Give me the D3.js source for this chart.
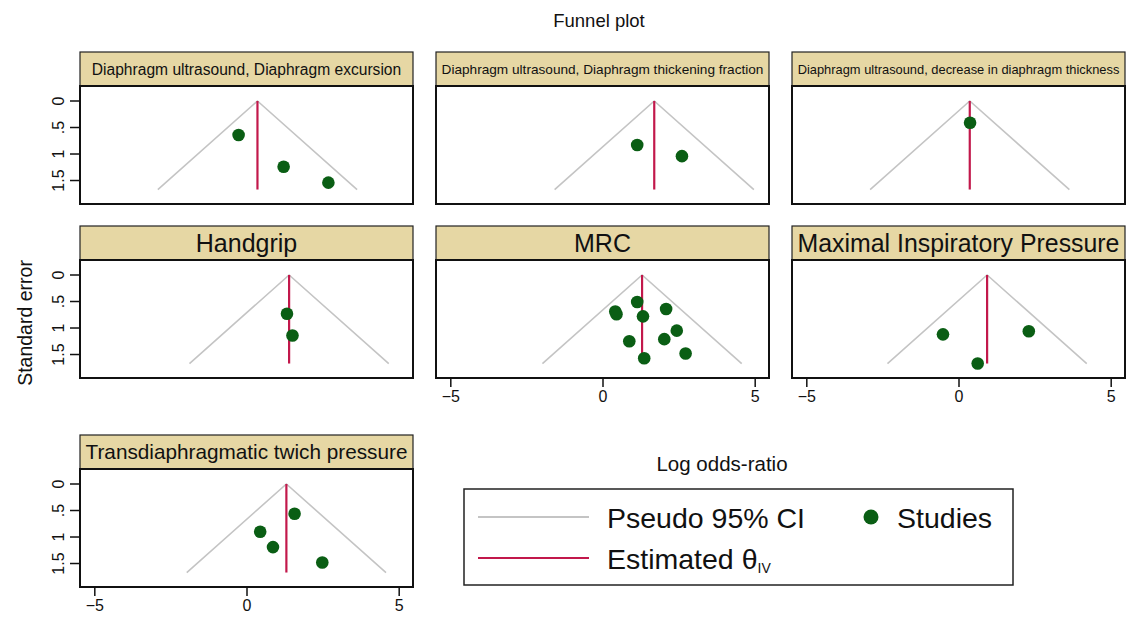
<!DOCTYPE html>
<html>
<head>
<meta charset="utf-8">
<script src="https://cdn.jsdelivr.net/npm/d3@7"></script>
<style>
  html, body { margin: 0; padding: 0; background: #fff; }
  svg { display: block; font-family: "Liberation Sans", Arial, sans-serif; }
</style>
</head>
<body>
<svg id="chart" width="1128" height="631"></svg>
<script>
// ---------------- data ----------------
const panelTitles = [
  "Diaphragm ultrasound, Diaphragm excursion",
  "Diaphragm ultrasound, Diaphragm thickening fraction",
  "Diaphragm ultrasound, decrease in diaphragm thickness",
  "Handgrip",
  "MRC",
  "Maximal Inspiratory Pressure",
  "Transdiaphragmatic twich pressure"
];
const thetaIV = [0.36, 1.70, 0.37, 1.40, 1.30, 0.94, 1.31];
const studyLogOR = [
  [-0.26, 1.22, 2.69],
  [1.14, 2.61],
  [0.38],
  [1.33, 1.51],
  [1.14, 2.09, 0.42, 0.46, 1.33, 2.44, 2.03, 0.88, 2.73, 1.37],
  [-0.51, 2.31, 0.63],
  [1.58, 0.45, 0.87, 2.49]
];
const studySE = [
  [0.64, 1.24, 1.54],
  [0.83, 1.04],
  [0.41],
  [0.73, 1.14],
  [0.51, 0.64, 0.69, 0.74, 0.78, 1.05, 1.21, 1.25, 1.48, 1.57],
  [1.12, 1.06, 1.67],
  [0.56, 0.90, 1.19, 1.48]
];
const seMax = 1.67;
const xTicks = [-5, 0, 5];
const yTicks = [0, 0.5, 1, 1.5];
const yTickLabels = ["0", ".5", "1", "1.5"];
const legendLabels = ["Pseudo 95% CI", "Estimated θ", "Studies"];

// ---------------- layout ----------------
const svg = d3.select("#chart");
const FONT = '"Liberation Sans", Arial, sans-serif';
const colX = [80, 436, 792];
const rowTop = [52, 226, 435];
const panelW = 333, headerH = 34, plotH = 118;
const GRAY = "#c4c4c4", RED = "#c2184b", GREEN = "#0a5e14", HEADER = "#e6d7a4";

const x = d3.scaleLinear().domain([-5.47, 5.47]).range([0, panelW]);
const y = d3.scaleLinear().domain([-0.283, 1.943]).range([0, plotH]);

const showY = [true, false, false, true, false, false, true];
const showX = [false, false, false, false, true, true, true];
const maxFont = [15.6, 15.6, 15.6, 25, 25, 25, 25];

panelTitles.forEach((title, i) => {
  const row = Math.floor(i / 3), col = i % 3;
  const g = svg.append("g").attr("transform", `translate(${colX[col]},${rowTop[row]})`);
  // header
  g.append("rect").attr("x", 0).attr("y", 0).attr("width", panelW).attr("height", headerH)
    .attr("fill", HEADER).attr("stroke", "#222").attr("stroke-width", 1.2);
  const t = g.append("text").attr("x", panelW / 2).attr("y", headerH / 2).attr("dy", "0.36em")
    .attr("text-anchor", "middle").attr("fill", "#111").style("font-size", maxFont[i] + "px").text(title);
  const w = t.node().getComputedTextLength();
  if (w > 322) t.style("font-size", (maxFont[i] * 322 / w) + "px");

  const p = g.append("g").attr("transform", `translate(0,${headerH})`);
  p.append("rect").attr("width", panelW).attr("height", plotH).attr("fill", "#fff");

  // funnel
  const th = thetaIV[i];
  const line = d3.line().x(d => x(d[0])).y(d => y(d[1]));
  p.append("path")
    .attr("d", line([[th - 1.96 * seMax, seMax], [th, 0], [th + 1.96 * seMax, seMax]]))
    .attr("fill", "none").attr("stroke", GRAY).attr("stroke-width", 1.6);
  p.append("path").attr("d", line([[th, 0], [th, seMax]]))
    .attr("stroke", RED).attr("stroke-width", 2.2);
  // studies
  p.selectAll("circle.study").data(studyLogOR[i].map((v, k) => [v, studySE[i][k]]))
    .enter().append("circle").attr("class", "study")
    .attr("cx", d => x(d[0])).attr("cy", d => y(d[1])).attr("r", 6.3).attr("fill", GREEN);

  p.append("rect").attr("width", panelW).attr("height", plotH).attr("fill", "none")
    .attr("stroke", "#111").attr("stroke-width", 2);

  if (showY[i]) {
    const ya = p.append("g");
    ya.selectAll("line").data(yTicks).enter().append("line")
      .attr("x1", -10).attr("x2", 0).attr("y1", d => y(d)).attr("y2", d => y(d))
      .attr("stroke", "#111").attr("stroke-width", 1.5);
    ya.selectAll("text").data(yTicks).enter().append("text")
      .attr("transform", d => `translate(-16.5,${y(d)}) rotate(-90)`)
      .attr("text-anchor", "middle").attr("fill", "#111").style("font-size", "16px")
      .text((d, k) => yTickLabels[k]);
  }
  if (showX[i]) {
    const xa = p.append("g").attr("transform", `translate(0,${plotH})`)
      .call(d3.axisBottom(x).tickValues(xTicks).tickSize(9).tickPadding(4).tickFormat(d3.format("d")));
    xa.select(".domain").remove();
    xa.selectAll("line").attr("stroke", "#111").attr("stroke-width", 1.5);
    xa.selectAll("text").attr("fill", "#111").style("font-size", "16px").style("font-family", FONT);
  }
});

// titles
svg.append("text").attr("x", 599).attr("y", 27).attr("text-anchor", "middle")
  .style("font-size", "18.5px").attr("fill", "#111").text("Funnel plot");
svg.append("text").attr("x", 722).attr("y", 471).attr("text-anchor", "middle")
  .style("font-size", "20.5px").attr("fill", "#111").text("Log odds-ratio");
svg.append("text").attr("transform", "translate(31.5,323) rotate(-90)").attr("text-anchor", "middle")
  .style("font-size", "19.5px").attr("fill", "#111").text("Standard error");

// legend
const lg = svg.append("g");
lg.append("rect").attr("x", 464).attr("y", 489).attr("width", 549).attr("height", 96)
  .attr("fill", "#fff").attr("stroke", "#222").attr("stroke-width", 1.5);
lg.append("line").attr("x1", 478).attr("x2", 589).attr("y1", 517).attr("y2", 517)
  .attr("stroke", GRAY).attr("stroke-width", 2);
lg.append("line").attr("x1", 478).attr("x2", 589).attr("y1", 558).attr("y2", 558)
  .attr("stroke", RED).attr("stroke-width", 2);
lg.append("text").attr("x", 607).attr("y", 528).style("font-size", "28.5px").attr("fill", "#111").text(legendLabels[0]);
const est = lg.append("text").attr("x", 607).attr("y", 569).style("font-size", "28.5px").attr("fill", "#111");
est.append("tspan").text(legendLabels[1]);
est.append("tspan").attr("dy", 4).style("font-size", "14px").text("IV");
lg.append("circle").attr("cx", 871).attr("cy", 517).attr("r", 7.5).attr("fill", GREEN);
lg.append("text").attr("x", 897).attr("y", 528).style("font-size", "28.5px").attr("fill", "#111").text(legendLabels[2]);
</script>
</body>
</html>
